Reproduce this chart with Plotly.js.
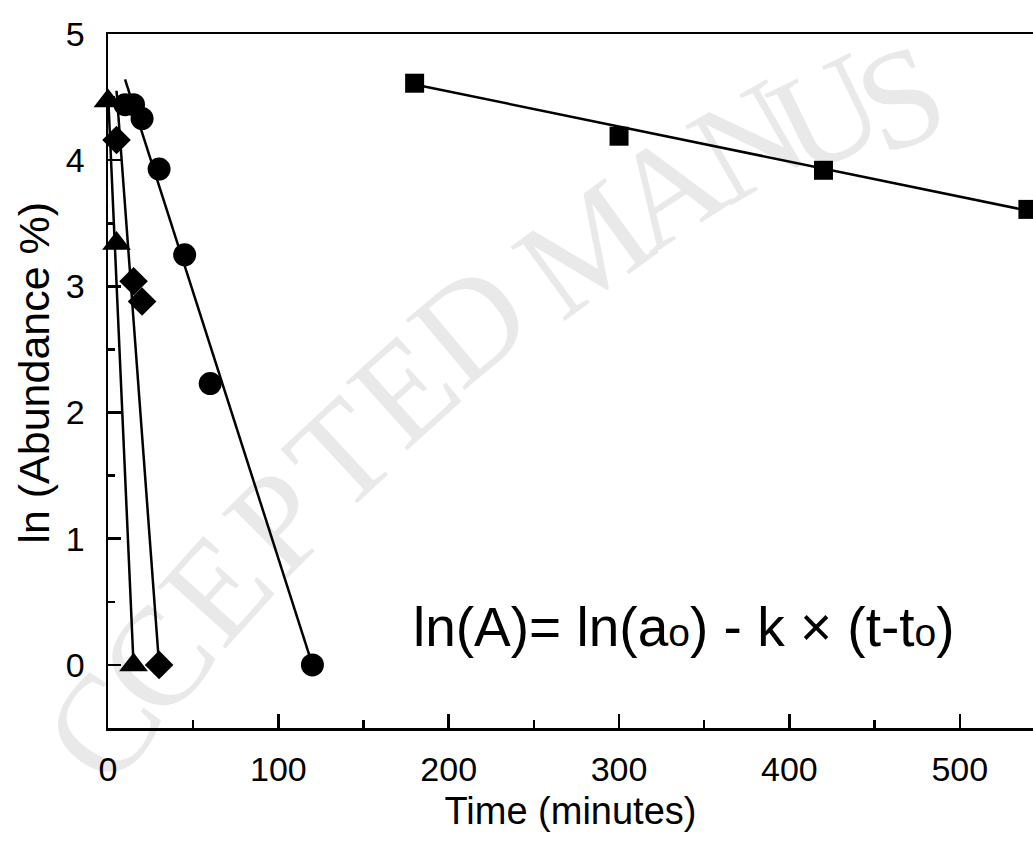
<!DOCTYPE html>
<html>
<head>
<meta charset="utf-8">
<script src="https://cdn.plot.ly/plotly-3.0.1.min.js"></script>
<style>html,body{margin:0;padding:0;background:#fff;}#chart{width:1033px;height:841px;}</style>
</head>
<body>
<div id="chart"></div>
<script>
// ---- data ----
const squareTime = [180, 300, 420, 540];
const squareLnA  = [4.61, 4.19, 3.92, 3.61];

const circleTime = [10, 15, 20, 30, 45, 60, 120];
const circleLnA  = [4.44, 4.44, 4.33, 3.93, 3.25, 2.23, 0];

const diamondTime = [5, 15, 20, 30];
const diamondLnA  = [4.16, 3.04, 2.88, 0];

const triangleTime = [0, 5, 15];
const triangleLnA  = [4.47, 3.34, 0];

// fitted straight lines (end points)
const squareFitTime   = [180, 540];
const squareFitLnA    = [4.60, 3.60];
const circleFitTime   = [10, 120];
const circleFitLnA    = [4.64, 0];
const diamondFitTime  = [5, 30];
const diamondFitLnA   = [4.55, 0];
const triangleFitTime = [0, 15];
const triangleFitLnA  = [4.54, 0];

const xTickVals = [0, 100, 200, 300, 400, 500];
const yTickVals = [0, 1, 2, 3, 4, 5];

// watermark letters (page-space guesses of centre and tilt)
const wmLetters = ['C','C','E','P','T','E','D','M','A','N','U','S'];
const wmPx      = [90, 145, 205, 267, 330, 394, 460, 575, 658, 740, 820, 895];
const wmPy      = [718, 650, 578, 510, 443, 378, 312, 236, 176, 128, 100, 84];
const wmAngle   = [-55, -50, -48, -45, -43, -42, -40, -36, -33, -30, -26, -22];

const FONT = 'Liberation Sans, Arial, sans-serif';

function fitLine(x, y) {
  return {x: x, y: y, type: 'scatter', mode: 'lines',
          line: {color: '#000', width: 2.5}, hoverinfo: 'skip', showlegend: false};
}
function pts(x, y, symbol, size) {
  return {x: x, y: y, type: 'scatter', mode: 'markers',
          marker: {symbol: symbol, size: size, color: '#000', line: {width: 0}},
          showlegend: false, cliponaxis: false};
}

const data = [
  fitLine(squareFitTime, squareFitLnA),
  fitLine(circleFitTime, circleFitLnA),
  fitLine(diamondFitTime, diamondFitLnA),
  fitLine(triangleFitTime, triangleFitLnA),
  pts(squareTime, squareLnA, 'square', 19),
  pts(circleTime, circleLnA, 'circle', 23),
  pts(diamondTime, diamondLnA, 'diamond', 22),
  pts(triangleTime, triangleLnA, 'triangle-up', 25)
];

const M = {l: 108, r: 0, t: 34, b: 113};
const PW = 1033 - M.l - M.r, PH = 841 - M.t - M.b;
const shapes = wmLetters.map((ch, i) => {
  const xp = (wmPx[i] - M.l) / PW, yp = (841 - M.b - wmPy[i]) / PH;
  return {type: 'rect', xref: 'paper', yref: 'paper', layer: 'below',
          x0: xp - 0.001, x1: xp + 0.001, y0: yp - 0.001, y1: yp + 0.001,
          line: {width: 0}, fillcolor: 'rgba(0,0,0,0)',
          label: {text: ch, textangle: wmAngle[i], textposition: 'middle center',
                  font: {family: 'Liberation Serif, Times New Roman, serif', size: 140, color: '#e9e9e9'}}};
});

const layout = {
  width: 1033, height: 841,
  margin: {l: M.l, r: M.r, t: M.t, b: M.b, pad: 0},
  paper_bgcolor: '#fff', plot_bgcolor: 'rgba(0,0,0,0)',
  font: {family: FONT, color: '#000'},
  showlegend: false,
  shapes: shapes,
  xaxis: {
    range: [0, 543], tickvals: xTickVals, ticks: 'inside', ticklen: 14, tickwidth: 2.5, tickcolor: '#000',
    minor: {dtick: 50, tick0: 0, ticks: 'inside', ticklen: 8, tickwidth: 2.5, tickcolor: '#000', showgrid: false},
    showline: true, linewidth: 2.5, linecolor: '#000', mirror: true,
    showgrid: false, zeroline: false,
    tickfont: {family: FONT, size: 34, color: '#000'}, ticklabelstandoff: 10,
    title: {text: 'Time (minutes)', font: {family: FONT, size: 38, color: '#000'}, standoff: 10}
  },
  yaxis: {
    range: [-0.5, 5], tickvals: yTickVals, ticks: 'inside', ticklen: 13, tickwidth: 2.5, tickcolor: '#000',
    minor: {dtick: 0.5, tick0: 0, ticks: 'inside', ticklen: 7, tickwidth: 2.5, tickcolor: '#000', showgrid: false},
    showline: true, linewidth: 2.5, linecolor: '#000', mirror: false,
    showgrid: false, zeroline: false,
    tickfont: {family: FONT, size: 34, color: '#000'}, ticklabelstandoff: 14
  },
  annotations: [
    {text: 'ln (Abundance %)', xref: 'paper', yref: 'paper', x: -100/925, y: 0.512,
     xanchor: 'left', yanchor: 'middle', textangle: -90, showarrow: false,
     font: {family: FONT, size: 43, color: '#000'}},
    {text: 'ln(A)= ln(a<span style="font-size:39px">o</span>) - k × (t-t<span style="font-size:39px">o</span>)',
     xref: 'x', yref: 'y', x: 178, y: 0.30, xanchor: 'left', yanchor: 'middle', showarrow: false,
     font: {family: FONT, size: 55, color: '#000'}}
  ]
};

Plotly.newPlot('chart', data, layout, {staticPlot: true, displayModeBar: false});
</script>
</body>
</html>
